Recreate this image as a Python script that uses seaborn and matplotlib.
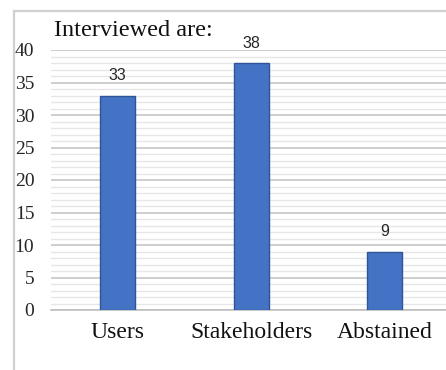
import matplotlib
matplotlib.use("Agg")
import matplotlib.pyplot as plt
from matplotlib.patches import Rectangle
from matplotlib.ticker import MultipleLocator, FixedLocator, NullFormatter
import pandas as pd
import seaborn as sns

categories = ["Users", "Stakeholders", "Abstained"]
counts = [33, 38, 9]
y_ticks = [0, 5, 10, 15, 20, 25, 30, 35, 40]
title_text = "Interviewed are:"

sns.set_style("white")
plt.rcParams["font.family"] = ["Liberation Serif", "DejaVu Serif"]

df = pd.DataFrame({"category": categories, "count": counts})

W, H = 446, 370
fig = plt.figure(figsize=(W / 100, H / 100), dpi=100)

# outer chart frame (open at the right and bottom edges)
fig.patches.append(Rectangle((14 / W, -0.1), 1.2, (H - 11) / H + 0.1,
                             transform=fig.transFigure, fill=False,
                             edgecolor="#d0d0d0", linewidth=1.6, zorder=0))

left, right = 51, 451.5
bottom, top = 310, 50
ax = fig.add_axes([left / W, (H - bottom) / H, (right - left) / W, (bottom - top) / H])
ax.set_facecolor("none")

sns.barplot(data=df, x="category", y="count", ax=ax, width=0.26,
            color="#4472C4", edgecolor="#2F5597", linewidth=1.0,
            saturation=1, zorder=3)

ax.set_xlim(-0.5, 2.5)
ax.set_ylim(0, 40)
ax.set_xlabel("")
ax.set_ylabel("")

# gridlines: light minor every unit, darker major every five
ax.yaxis.set_major_locator(FixedLocator(y_ticks))
ax.yaxis.set_minor_locator(MultipleLocator(1))
ax.grid(axis="y", which="minor", color="#e6e6e6", linewidth=1.0, zorder=0)
ax.grid(axis="y", which="major", color="#c6c6c6", linewidth=1.2, zorder=1)
ax.grid(axis="x", visible=False)

for s in ["left", "right", "top"]:
    ax.spines[s].set_visible(False)
ax.spines["bottom"].set_color("#bfbfbf")
ax.spines["bottom"].set_linewidth(1.2)

ax.tick_params(axis="y", which="both", length=0, pad=12, labelsize=14,
               labelcolor="#262626")
ax.set_yticklabels([str(v) for v in y_ticks])
ax.xaxis.set_minor_locator(FixedLocator([-0.5, 0.5, 1.5, 2.5]))
ax.xaxis.set_minor_formatter(NullFormatter())
ax.tick_params(axis="x", which="minor", length=5, width=1.0, color="#bfbfbf",
               direction="out")
ax.tick_params(axis="x", which="major", length=0, pad=9, labelsize=17,
               labelcolor="#111111")

for i, v in enumerate(counts):
    ax.annotate(str(v), (i, v), xytext=(0, 9), textcoords="offset points",
                ha="center", va="bottom", fontsize=11.5,
                family=["Liberation Sans", "DejaVu Sans"], color="#262626")

fig.text(54 / W, 1 - 30 / H, title_text, ha="left", va="center",
         fontsize=17.5, color="#111111")

fig.savefig("out.png", dpi=100)
